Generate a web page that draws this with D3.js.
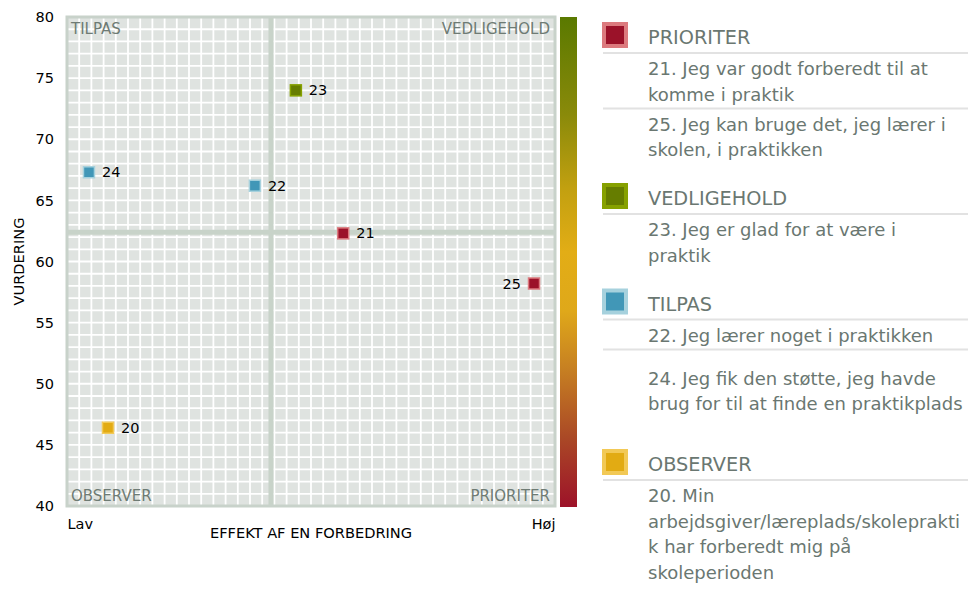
<!DOCTYPE html>
<html lang="da">
<head>
  <meta charset="utf-8">
  <title>Prioriteringskort</title>
  <script src="https://d3js.org/d3.v7.min.js"></script>
  <style>
    body { margin: 0; background: #fff; font-family: "DejaVu Sans", sans-serif; }
    .tick text { font-size: 14.5px; fill: #000; }
    .quad { font-size: 15px; fill: #6e7b74; }
    .plabel { font-size: 14.5px; fill: #000; }
    .leg-head { font-size: 19.3px; fill: #6a7771; }
    .leg-item { font-size: 18px; fill: #6a7771; }
  </style>
</head>
<body>
<svg id="chart" width="978" height="589"></svg>
<script>
  // Data
  const ids = ["20", "21", "22", "23", "24", "25"];
  const effekt = [8.4, 56.6, 38.5, 46.9, 4.5, 95.7];      // 0 = Lav, 100 = Høj
  const vurdering = [46.4, 62.3, 66.2, 74.0, 67.3, 58.2];
  const kategori = ["OBSERVER", "PRIORITER", "TILPAS", "VEDLIGEHOLD", "TILPAS", "PRIORITER"];

  const yTicks = [40, 45, 50, 55, 60, 65, 70, 75, 80];
  const xTickLabels = ["Lav", "Høj"];
  const skillelinjeX = 41.8;   // grænse mellem lav/høj effekt
  const skillelinjeY = 62.4;   // grænse mellem lav/høj vurdering

  const grupper = ["PRIORITER", "VEDLIGEHOLD", "TILPAS", "OBSERVER"];
  const udsagn = {
    "21": ["21. Jeg var godt forberedt til at", "komme i praktik"],
    "25": ["25. Jeg kan bruge det, jeg lærer i", "skolen, i praktikken"],
    "23": ["23. Jeg er glad for at være i", "praktik"],
    "22": ["22. Jeg lærer noget i praktikken"],
    "24": ["24. Jeg fik den støtte, jeg havde", "brug for til at finde en praktikplads"],
    "20": ["20. Min", "arbejdsgiver/læreplads/skoleprakti", "k har forberedt mig på", "skoleperioden"]
  };
  const gruppeOrden = {
    "PRIORITER": ["21", "25"],
    "VEDLIGEHOLD": ["23"],
    "TILPAS": ["22", "24"],
    "OBSERVER": ["20"]
  };

  const fyld = { PRIORITER: "#9b1229", VEDLIGEHOLD: "#667d00", TILPAS: "#4197b7", OBSERVER: "#e2ab13" };
  const kant = { PRIORITER: "#dc7a7e", VEDLIGEHOLD: "#86a100", TILPAS: "#a6d1dd", OBSERVER: "#f2c956" };

  const plot = { left: 67, right: 555, top: 17, bottom: 506 };
  const svg = d3.select("#chart");

  const x = d3.scaleLinear().domain([0, 100]).range([plot.left, plot.right]);
  const y = d3.scaleLinear().domain([40, 80]).range([plot.bottom, plot.top]);

  // baggrund og gitter
  svg.append("rect")
    .attr("x", plot.left).attr("y", plot.top)
    .attr("width", plot.right - plot.left).attr("height", plot.bottom - plot.top)
    .attr("fill", "#dfe3e0");

  const g = svg.append("g");
  g.selectAll("line.vx")
    .data(d3.range(2.5, 100, 2.5))
    .enter().append("line")
    .attr("x1", d => x(d)).attr("x2", d => x(d))
    .attr("y1", plot.top).attr("y2", plot.bottom)
    .attr("stroke", "#fff").attr("stroke-width", 1.8);
  g.selectAll("line.hy")
    .data(d3.range(41, 80, 1))
    .enter().append("line")
    .attr("y1", d => y(d)).attr("y2", d => y(d))
    .attr("x1", plot.left).attr("x2", plot.right)
    .attr("stroke", "#fff").attr("stroke-width", 1.8);

  // skillelinjer
  svg.append("line")
    .attr("x1", x(skillelinjeX)).attr("x2", x(skillelinjeX))
    .attr("y1", plot.top).attr("y2", plot.bottom)
    .attr("stroke", "#c8d3c9").attr("stroke-width", 5);
  svg.append("line")
    .attr("y1", y(skillelinjeY)).attr("y2", y(skillelinjeY))
    .attr("x1", plot.left).attr("x2", plot.right)
    .attr("stroke", "#c8d3c9").attr("stroke-width", 5);

  // ramme
  svg.append("rect")
    .attr("x", plot.left).attr("y", plot.top)
    .attr("width", plot.right - plot.left).attr("height", plot.bottom - plot.top)
    .attr("fill", "none").attr("stroke", "#c8d2ca").attr("stroke-width", 3);

  // kvadrantnavne
  const quads = [
    { t: "TILPAS", x: plot.left + 4, y: plot.top + 17, a: "start" },
    { t: "VEDLIGEHOLD", x: plot.right - 5, y: plot.top + 17, a: "end" },
    { t: "OBSERVER", x: plot.left + 4, y: plot.bottom - 5, a: "start" },
    { t: "PRIORITER", x: plot.right - 5, y: plot.bottom - 5, a: "end" }
  ];
  svg.selectAll("text.quad")
    .data(quads)
    .enter().append("text")
    .attr("class", "quad")
    .attr("x", d => d.x).attr("y", d => d.y)
    .attr("text-anchor", d => d.a)
    .text(d => d.t);

  // farveskala
  const grad = svg.append("defs").append("linearGradient")
    .attr("id", "skala").attr("x1", 0).attr("x2", 0).attr("y1", 0).attr("y2", 1);
  [[0, "#5a7900"], [0.2, "#8a8a0a"], [0.35, "#c2a010"], [0.48, "#e2ad16"], [0.6, "#dfa81a"],
   [0.72, "#c67f22"], [0.86, "#aa4826"], [1, "#9d1229"]].forEach(s => {
    grad.append("stop").attr("offset", s[0]).attr("stop-color", s[1]);
  });
  svg.append("rect")
    .attr("x", 560).attr("y", plot.top)
    .attr("width", 17).attr("height", plot.bottom - plot.top + 1)
    .attr("fill", "url(#skala)");

  // akser
  const yAxis = svg.append("g")
    .attr("transform", `translate(${plot.left},0)`)
    .call(d3.axisLeft(y).tickValues(yTicks).tickSize(0).tickPadding(13));
  yAxis.select(".domain").remove();
  yAxis.selectAll("text").attr("font-family", "DejaVu Sans");

  const xAxis = svg.append("g")
    .attr("transform", `translate(0,${plot.bottom})`)
    .call(d3.axisBottom(x).tickValues([0, 100]).tickSize(0).tickPadding(13)
      .tickFormat((d, i) => xTickLabels[i]));
  xAxis.select(".domain").remove();
  xAxis.selectAll("text")
    .attr("font-family", "DejaVu Sans")
    .attr("text-anchor", (d, i) => i === 0 ? "start" : "end");

  svg.append("text")
    .attr("x", (plot.left + plot.right) / 2).attr("y", 538)
    .attr("text-anchor", "middle")
    .attr("font-size", 14.6)
    .text("EFFEKT AF EN FORBEDRING");
  svg.append("text")
    .attr("transform", `translate(24,${(plot.top + plot.bottom) / 2}) rotate(-90)`)
    .attr("text-anchor", "middle")
    .attr("font-size", 14.6)
    .text("VURDERING");

  // punkter
  const punkter = ids.map((id, i) => ({ id, ex: effekt[i], vu: vurdering[i], kat: kategori[i] }));
  const pg = svg.selectAll("g.punkt")
    .data(punkter)
    .enter().append("g")
    .attr("class", "punkt")
    .attr("transform", d => `translate(${x(d.ex)},${y(d.vu)})`);
  pg.append("rect")
    .attr("x", -5.5).attr("y", -5.5).attr("width", 11).attr("height", 11)
    .attr("fill", d => fyld[d.kat])
    .attr("stroke", d => kant[d.kat]).attr("stroke-width", 1.5);
  pg.append("text")
    .attr("class", "plabel")
    .attr("x", d => d.ex > 90 ? -13 : 13)
    .attr("y", 5)
    .attr("text-anchor", d => d.ex > 90 ? "end" : "start")
    .text(d => d.id);

  // forklaring
  const leg = svg.append("g");
  const lh = 25.5;
  let ly = 44;
  grupper.forEach((grp, gi) => {
    if (gi > 0) ly += 49;
    leg.append("rect")
      .attr("x", 604).attr("y", ly - 20).attr("width", 22).attr("height", 22)
      .attr("fill", fyld[grp]).attr("stroke", kant[grp]).attr("stroke-width", 4);
    leg.append("text").attr("class", "leg-head").attr("x", 648).attr("y", ly).text(grp);
    let sep = ly + 9;
    let prevEnkelt = false;
    gruppeOrden[grp].forEach(id => {
      leg.append("line")
        .attr("x1", 603).attr("x2", 968).attr("y1", sep).attr("y2", sep)
        .attr("stroke", "#e2e2e2").attr("stroke-width", 2);
      const linjer = udsagn[id];
      let by = sep + 22 + (prevEnkelt ? 13 : 0);
      linjer.forEach((t, li) => {
        leg.append("text").attr("class", "leg-item")
          .attr("x", 648).attr("y", by + li * lh).text(t);
      });
      ly = by + (linjer.length - 1) * lh + (prevEnkelt ? 12 : 0);
      sep = ly + 8;
      prevEnkelt = linjer.length === 1;
    });
  });
</script>
</body>
</html>
